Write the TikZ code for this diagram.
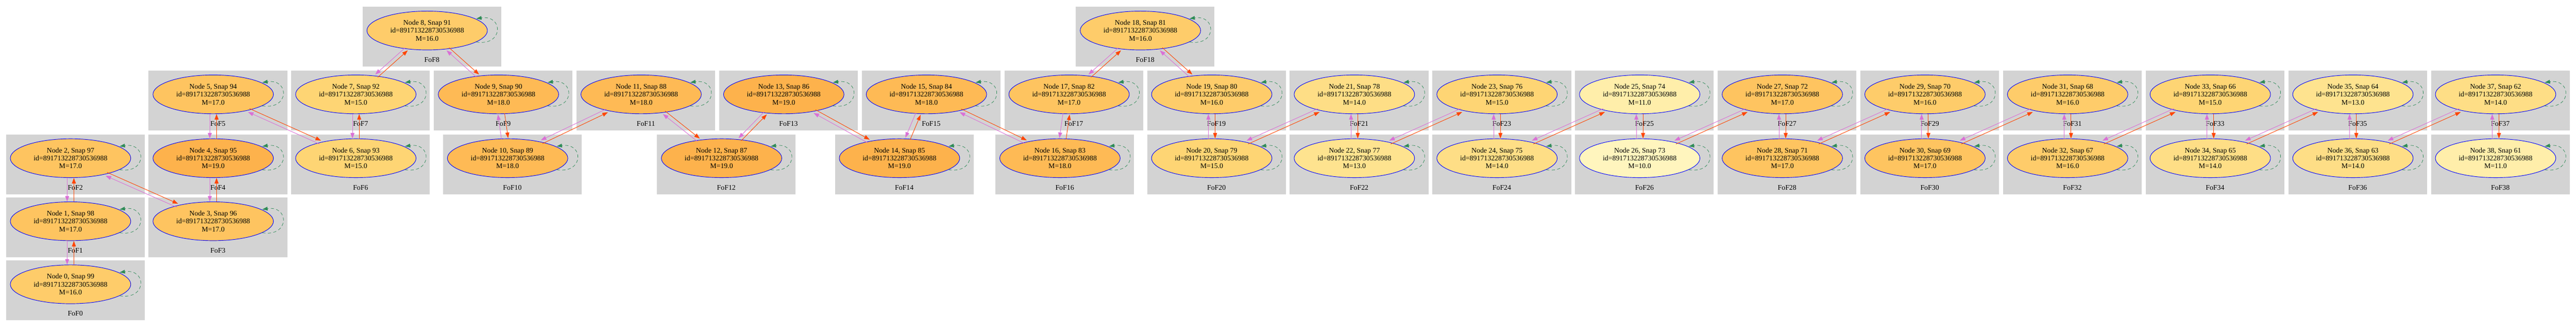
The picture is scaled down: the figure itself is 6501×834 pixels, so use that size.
\documentclass[tikz,border=0pt]{standalone}
\usepackage{fontspec}
\setmainfont{Liberation Serif}
\usetikzlibrary{shapes.geometric,arrows.meta}
\definecolor{clgray}{HTML}{D3D3D3}
\definecolor{vedge}{HTML}{DA70D6}
\definecolor{oedge}{HTML}{FF4500}
\definecolor{lgreen}{HTML}{2E8B57}
\definecolor{mc19}{HTML}{FDB24C}
\definecolor{mc18}{HTML}{FEBA55}
\definecolor{mc17}{HTML}{FEC460}
\definecolor{mc16}{HTML}{FECC6A}
\definecolor{mc15}{HTML}{FED574}
\definecolor{mc14}{HTML}{FEDE86}
\definecolor{mc13}{HTML}{FEE38F}
\definecolor{mc11}{HTML}{FFEEAA}
\definecolor{mc10}{HTML}{FFF5BE}
\tikzset{
  fofnode/.style={ellipse, draw=blue, line width=0.9pt, minimum width=228pt, minimum height=73.5pt,
    inner sep=0pt, align=center, font=\fontsize{13.5}{15}\selectfont},
  foflabel/.style={font=\fontsize{13.5}{15}\selectfont, inner sep=0pt},
  vstyle/.style={draw=vedge, line width=0.9pt, -{Triangle[length=10.5pt,width=7.5pt]}},
  ostyle/.style={draw=oedge, line width=0.9pt, -{Triangle[length=10.5pt,width=7.5pt]}},
  selfloop/.style={draw=lgreen, line width=0.75pt, dash pattern=on 6pt off 4.5pt,
    -{Triangle[length=10pt,width=7pt]}},
}
\begin{document}
\begin{tikzpicture}[x=0.75pt,y=-0.75pt]
\fill[white] (0,0) rectangle (6501,834);
\useasboundingbox (0,0) rectangle (6501,834);
\foreach \i/\cx/\cy/\m in {0/178/717/16, 1/178/558/17, 2/178/399/17, 3/538/558/17, 4/538/399/19,
  5/538/238/17, 6/898/399/15, 7/898/238/15, 8/1078/77/16, 9/1258/238/18, 10/1281/399/18,
  11/1618/238/18, 12/1821/399/19, 13/1978/238/19, 14/2270/399/19, 15/2338/238/18,
  16/2675/399/18, 17/2698/238/17, 18/2878/77/16, 19/3058/238/16, 20/3058/399/15,
  21/3418/238/14, 22/3418/399/13, 23/3778/238/15, 24/3778/399/14, 25/4138/238/11,
  26/4138/399/10, 27/4498/238/17, 28/4498/399/17, 29/4858/238/16, 30/4858/399/17,
  31/5218/238/16, 32/5218/399/16, 33/5578/238/15, 34/5578/399/14, 35/5938/238/13,
  36/5938/399/14, 37/6298/238/14, 38/6298/399/11}{
  \expandafter\xdef\csname ncx\i\endcsname{\cx}
  \expandafter\xdef\csname ncy\i\endcsname{\cy}
  \pgfmathtruncatemacro\snap{99-\i}
  \fill[clgray] (\cx-163,\cy-60) rectangle (\cx+187,\cy+91);
  \node[foflabel] (lab\i) at (\cx+12,\cy+74) {FoF\i};
  \node[fofnode, fill=mc\m] (n\i) at (\cx,\cy) {Node \i, Snap \snap\\id=891713228730536988\\M=\m.0};
  \draw[selfloop] (\cx+124,\cy+29) .. controls (\cx+193,\cy+40) and (\cx+193,\cy-40) .. (\cx+124,\cy-30);
}
\foreach \a in {0,...,37}{
  \pgfmathtruncatemacro\b{\a+1}
  \edef\ax{\csname ncx\a\endcsname}\edef\ay{\csname ncy\a\endcsname}
  \edef\bx{\csname ncx\b\endcsname}\edef\by{\csname ncy\b\endcsname}
  \pgfmathsetmacro\ddx{(\ay<\by) ? (\bx-\ax) : (\ax-\bx)}
  \pgfmathsetmacro\ddy{abs(\by-\ay)}
  \pgfmathsetmacro\ang{atan2(\ddy,\ddx)}
  \pgfmathsetmacro\sh{(abs(\ddx)<40) ? 8.5 : ((abs(\ddx)<100) ? 6.5 : 4.7)}
  \draw[vstyle, transform canvas={shift={(\ang+90:\sh)}}] (n\b) -- (n\a);
  \draw[ostyle, transform canvas={shift={(\ang-90:\sh)}}] (n\a) -- (n\b);
}
\end{tikzpicture}
\end{document}
